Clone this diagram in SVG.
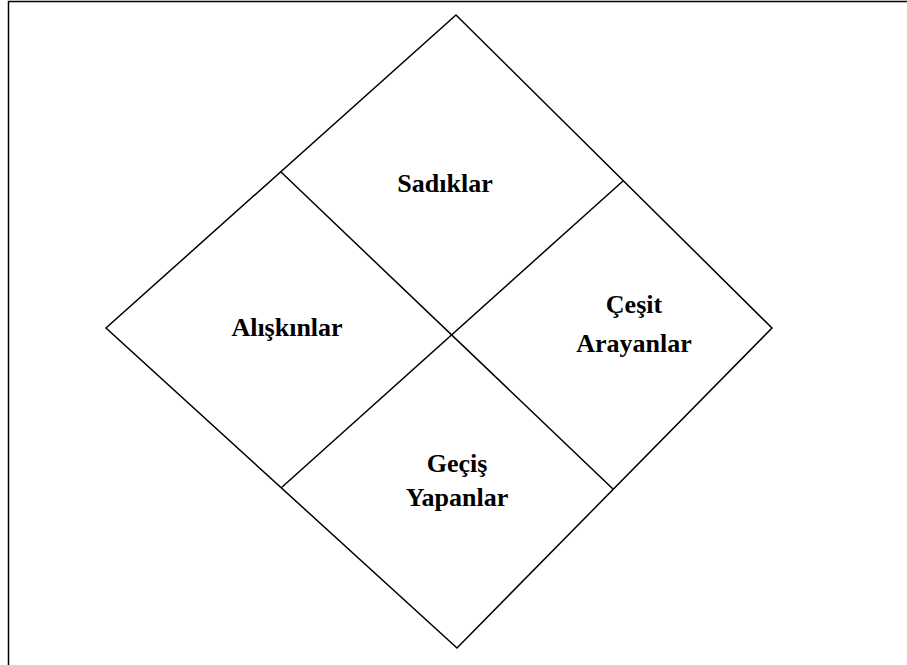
<svg xmlns="http://www.w3.org/2000/svg" width="907" height="665" viewBox="0 0 907 665">
  <style>
    .frame { fill: none; stroke: #000; stroke-width: 1.5; }
    .edge { fill: none; stroke: #000; stroke-width: 1.5; }
    .label { font-family: "Liberation Serif", "Times New Roman", serif; font-weight: bold; font-size: 26px; fill: #000; text-anchor: middle; }
  </style>
  <rect width="907" height="665" fill="#fff"/>
  <!-- page frame -->
  <rect class="frame" x="8.5" y="1.5" width="905" height="670"/>
  <!-- outer diamond and dividing lines -->
  <g id="connectors">
    <polygon class="edge" points="456,15 772,328 457,648 106,328"/>
    <line class="edge" x1="281" y1="172" x2="613" y2="489"/>
    <line class="edge" x1="623" y1="181" x2="281" y2="488"/>
  </g>
  <g id="sadiklar">
    <text class="label" x="445" y="192">Sadıklar</text>
  </g>
  <g id="aliskinlar">
    <text class="label" x="287" y="336">Alışkınlar</text>
  </g>
  <g id="cesit-arayanlar">
    <text class="label" x="634" y="313">Çeşit</text>
    <text class="label" x="634" y="352">Arayanlar</text>
  </g>
  <g id="gecis-yapanlar">
    <text class="label" x="457" y="472">Geçiş</text>
    <text class="label" x="457" y="506">Yapanlar</text>
  </g>
</svg>
